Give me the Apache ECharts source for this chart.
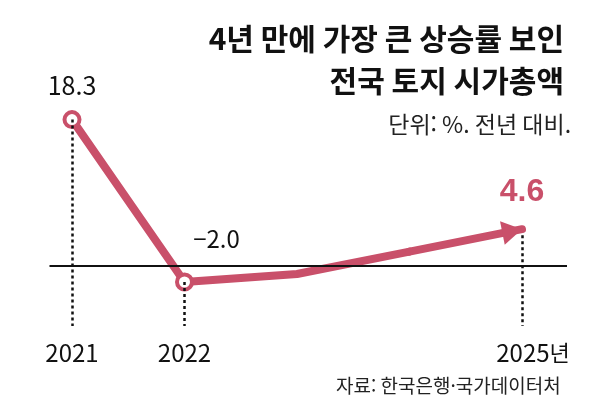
<!DOCTYPE html>
<html lang="ko">
<head>
    <meta charset="UTF-8">
    <title>전국 토지 시가총액</title>
    <script src="https://cdn.jsdelivr.net/npm/echarts@6/dist/echarts.min.js"></script>
    <style>
        html, body { margin: 0; padding: 0; background: #fff; }
    </style>
</head>
<body>
    <div id="main" style="width:610px;height:420px;"></div>

    <script>
        // 데이터
        const years = [2021, 2022, 2023, 2024, 2025];
        const values = [18.3, -2.0, -1.0, 1.8, 4.6];
        const labeledYears = [2021, 2022, 2025];
        const markerYears = [2021, 2022];

        const titleLines = ['4년 만에 가장 큰 상승률 보인', '전국 토지 시가총액'];
        const unitText = '단위: %. 전년 대비.';
        const sourceText = '자료: 한국은행·국가데이터처';

        const PINK = '#c9506a';
        const NUM_FONT = '"Liberation Sans Narrow", "Noto Sans CJK KR", sans-serif';
        const KR_FONT = '"Noto Sans CJK KR", sans-serif';
        const Y_MIN = -7.5;

        function fmt(v) {
            return v < 0 ? '\u2212' + Math.abs(v).toFixed(1) : v.toFixed(1);
        }

        // 선 (2024까지) + 마지막 구간은 화살표
        const last = years.length - 1;
        const lineData = [];
        for (let i = 0; i < last; i++) {
            const item = { value: [years[i], values[i]] };
            if (markerYears.indexOf(years[i]) < 0) {
                item.symbol = 'none';
            }
            if (i === 0) {
                item.label = { show: true, position: 'top', distance: 12, fontSize: 25 };
            } else if (i === 1) {
                item.label = { show: true, position: 'top', distance: 22, offset: [32, 0], fontSize: 24 };
            }
            lineData.push(item);
        }

        // 점선 (점 -> 아래)
        const dropLines = labeledYears.map(function (y) {
            const v = values[years.indexOf(y)];
            return [{ coord: [y, v] }, { coord: [y, Y_MIN] }];
        });

        const titles = titleLines.map(function (t, i) {
            return {
                text: t,
                right: 46,
                top: 24 + i * 42,
                padding: 0,
                textStyle: { fontFamily: KR_FONT, fontSize: 30, fontWeight: 'bold', color: '#111' }
            };
        });
        titles.push({
            text: unitText,
            right: 39,
            top: 113,
            padding: 0,
            textStyle: { fontFamily: KR_FONT, fontSize: 23, fontWeight: 'normal', color: '#222' }
        });
        titles.push({
            text: sourceText,
            right: 44,
            top: 376,
            padding: 0,
            textStyle: { fontFamily: KR_FONT, fontSize: 19, fontWeight: 'normal', color: '#222' }
        });

        const option = {
            animation: false,
            title: titles,
            grid: { left: 49.5, right: 43, top: 106, bottom: 94 },
            xAxis: {
                type: 'value',
                min: 2020.8,
                max: 2025.4,
                axisLine: { show: false },
                axisTick: { show: false },
                splitLine: { show: false },
                axisLabel: {
                    customValues: labeledYears,
                    margin: 15,
                    fontFamily: NUM_FONT,
                    fontSize: 24,
                    color: '#111',
                    formatter: function (v) {
                        return v === 2025 ? '{pad|}' + v + '{u|년}' : String(v);
                    },
                    rich: {
                        pad: { width: 22 },
                        u: { fontFamily: KR_FONT, fontSize: 22, color: '#111' }
                    }
                }
            },
            yAxis: {
                type: 'value',
                min: Y_MIN,
                max: 20,
                show: false,
                splitLine: { show: false }
            },
            series: [
                {
                    // 0선, 점선
                    type: 'line',
                    data: [],
                    silent: true,
                    z: 1,
                    markLine: {
                        silent: true,
                        symbol: 'none',
                        label: { show: false },
                        data: [
                            { yAxis: 0, lineStyle: { type: 'solid', color: '#111', width: 2 } }
                        ].concat(dropLines),
                        lineStyle: { type: [3, 3], color: '#111', width: 2.5 }
                    }
                },
                {
                    type: 'line',
                    z: 3,
                    data: lineData,
                    symbol: 'circle',
                    symbolSize: 15,
                    lineStyle: { color: PINK, width: 8, join: 'round', cap: 'round' },
                    itemStyle: { color: '#fff', borderColor: PINK, borderWidth: 4 },
                    label: {
                        fontFamily: NUM_FONT,
                        color: '#111',
                        formatter: function (p) { return fmt(p.value[1]); }
                    },
                    markLine: {
                        silent: true,
                        symbol: ['none', 'triangle'],
                        symbolSize: [24, 20],
                        symbolOffset: [0, [0, 10]],
                        label: { show: false },
                        lineStyle: { type: 'solid', color: PINK, width: 8, cap: 'round' },
                        itemStyle: { color: PINK },
                        data: [[
                            { coord: [years[last - 1], values[last - 1]] },
                            { coord: [years[last], values[last]] }
                        ]]
                    },
                    markPoint: {
                        silent: true,
                        symbol: 'circle',
                        symbolSize: 1,
                        itemStyle: { color: 'rgba(0,0,0,0)' },
                        label: {
                            show: true,
                            position: 'inside',
                            offset: [0, -37],
                            fontFamily: '"Liberation Sans", sans-serif',
                            fontWeight: 'bold',
                            fontSize: 32,
                            color: PINK,
                            formatter: function (p) { return fmt(p.value); }
                        },
                        data: [{ coord: [years[last], values[last]], value: values[last] }]
                    }
                }
            ]
        };

        var myChart = echarts.init(document.getElementById('main'));
        myChart.setOption(option);
    </script>
</body>
</html>
